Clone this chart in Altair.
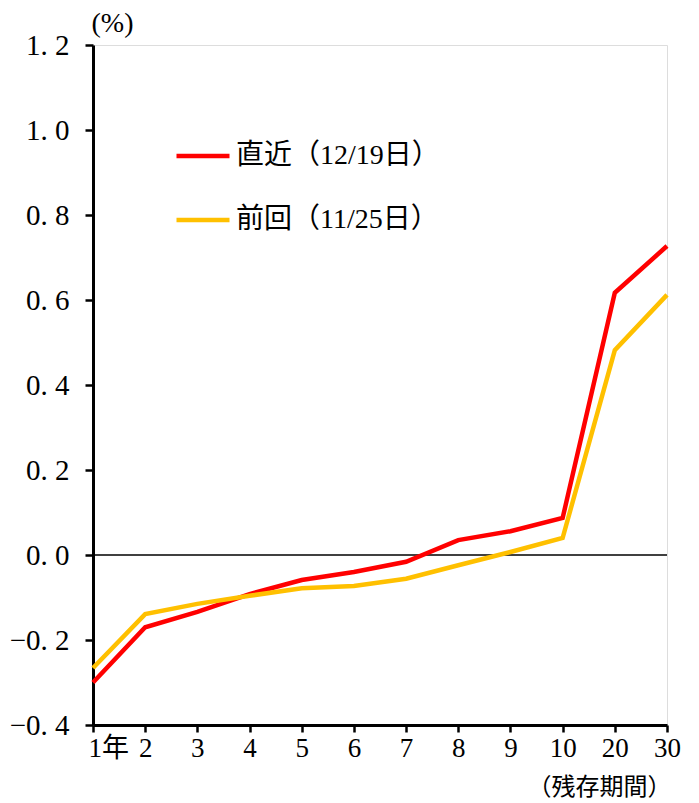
import altair as alt
import pandas as pd

maturities = ["1年", "2", "3", "4", "5", "6", "7", "8", "9", "10", "20", "30"]
latest = [-0.30, -0.17, -0.134, -0.092, -0.059, -0.04, -0.016, 0.035, 0.056, 0.087, 0.617, 0.727]
previous = [-0.266, -0.139, -0.115, -0.096, -0.078, -0.073, -0.056, -0.024, 0.007, 0.04, 0.482, 0.612]
series = ["直近（12/19日）", "前回（11/25日）"]
colors = ["#FF0000", "#FFC000"]
y_ticks = [-0.4, -0.2, 0.0, 0.2, 0.4, 0.6, 0.8, 1.0, 1.2]

rows = []
for name, vals in zip(series, [latest, previous]):
    for i, (m, v) in enumerate(zip(maturities, vals)):
        rows.append({"maturity": m, "value": v, "series": name, "order": i})
df = pd.DataFrame(rows)

FONT = "'Liberation Serif', 'Noto Sans CJK JP', serif"

base = alt.Chart(df)

lines = base.mark_line(strokeWidth=4.5, strokeCap="butt", strokeJoin="miter").encode(
    x=alt.X(
        "maturity:N",
        sort=maturities,
        scale=alt.Scale(type="point", padding=0),
        axis=alt.Axis(
            title="（残存期間）",
            titleAngle=0,
            titleX=578,
            titleY=62,
            titleAlign="right",
            titleBaseline="middle",
            titleFont=FONT,
            titleFontSize=24,
            titleFontWeight="normal",
            titleColor="#000",
            labelAngle=0,
            labelFont=FONT,
            labelFontSize=27,
            labelColor="#000",
            labelPadding=3,
            labelAlign={"condition": {"test": "datum.value == '1年'", "value": "left"}, "value": "center"},
            labelOffset={"condition": {"test": "datum.value == '1年'", "value": -5}, "value": 0},
            tickSize=7,
            tickWidth=2.5,
            tickColor="#000",
            domainColor="#000",
            domainWidth=3,
            grid=False,
        ),
    ),
    y=alt.Y(
        "value:Q",
        scale=alt.Scale(domain=[-0.4, 1.2], nice=False, zero=False),
        axis=alt.Axis(
            values=y_ticks,
            labelExpr="replace(format(datum.value, '.1f'), '.', '. ')",
            title="(%)",
            titleAngle=0,
            titleX=-2,
            titleY=-22,
            titleAlign="left",
            titleBaseline="middle",
            titleFont=FONT,
            titleFontSize=28,
            titleFontWeight="normal",
            titleColor="#000",
            labelFont=FONT,
            labelFontSize=29,
            labelColor="#000",
            labelPadding=16,
            tickSize=8,
            tickWidth=2.5,
            tickColor="#000",
            domainColor="#000",
            domainWidth=3,
            grid=False,
        ),
    ),
    color=alt.Color(
        "series:N",
        scale=alt.Scale(domain=series, range=colors),
        legend=alt.Legend(
            title=None,
            orient="none",
            legendX=81,
            legendY=82,
            symbolType="stroke",
            symbolSize=2809,
            symbolStrokeWidth=4.5,
            labelFont=FONT,
            labelFontSize=28,
            labelColor="#000",
            labelOffset=4,
            labelLimit=0,
            rowPadding=21,
        ),
    ),
    order="order:Q",
    detail="series:N",
)

zero = alt.Chart(pd.DataFrame({"z": [0.0]})).mark_rule(color="#000", strokeWidth=1.5).encode(y="z:Q")

chart = alt.layer(zero, lines).properties(
    width=574,
    height=680,
    autosize=alt.AutoSizeParams(type="none"),
    padding={"left": 85, "top": 37, "right": 24, "bottom": 78},
).configure_view(stroke="#000", strokeWidth=2.5).configure(background="white")

chart.save("out.html", embed_options={"renderer": "svg", "actions": False})
